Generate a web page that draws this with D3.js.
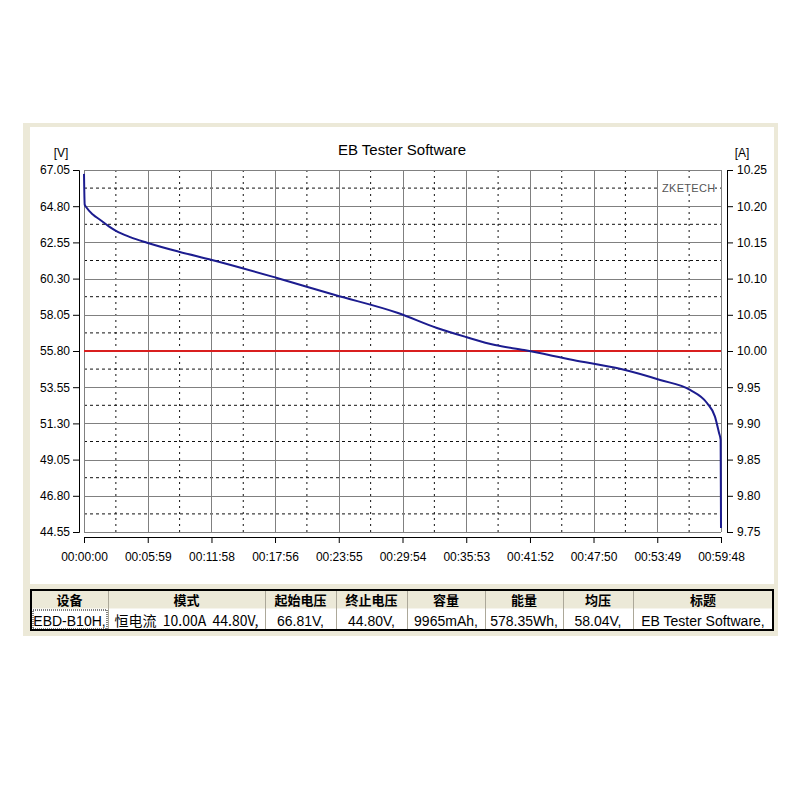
<!DOCTYPE html>
<html lang="zh">
<head>
<meta charset="UTF-8">
<title>EB Tester Software</title>
<script src="https://d3js.org/d3.v7.min.js"></script>
<style>
    body { margin: 0; background: #fff; }
    svg { display: block; }
    text { font-family: "Liberation Sans", Arial, sans-serif; fill: #000; }
    .cjk { font-family: "Noto Sans CJK SC", sans-serif; }
    .axis path, .axis line { stroke: #000; }
    .axis text { font-size: 12px; }
</style>
</head>
<body>
<svg id="chart" width="800" height="800"></svg>
<script>
// voltage curve: [seconds, volts]
const timeSec = [0, 4, 14, 50, 90, 140, 180, 260, 355, 535, 721, 1087, 1414, 1769, 1988, 2152, 2315, 2479, 2755, 3025, 3245, 3414, 3509, 3554, 3577, 3586, 3588];
const voltage = [66.81, 64.90, 64.72, 64.28, 63.96, 63.55, 63.27, 62.88, 62.53, 61.97, 61.46, 60.34, 59.28, 58.16, 57.23, 56.67, 56.17, 55.86, 55.24, 54.68, 54.00, 53.38, 52.57, 51.72, 50.70, 50.27, 44.80];
// current line (A)
const currentTime = [0, 3588];
const current = [10.00, 10.00];

const timeLabels = ["00:00:00", "00:05:59", "00:11:58", "00:17:56", "00:23:55", "00:29:54",
    "00:35:53", "00:41:52", "00:47:50", "00:53:49", "00:59:48"];
const voltTicks = [67.05, 64.80, 62.55, 60.30, 58.05, 55.80, 53.55, 51.30, 49.05, 46.80, 44.55];
const ampTicks = [10.25, 10.20, 10.15, 10.10, 10.05, 10.00, 9.95, 9.90, 9.85, 9.80, 9.75];

const tableHeaders = ["设备", "模式", "起始电压", "终止电压", "容量", "能量", "均压", "标题"];
const tableValues = ["EBD-B10H,", "恒电流  10.00A  44.80V,", "66.81V,", "44.80V,", "9965mAh,", "578.35Wh,", "58.04V,", "EB Tester Software,"];
const colEdges = [31, 108, 265, 336, 407, 485, 563, 633, 773];

const svg = d3.select("#chart");

// window panels
svg.append("rect").attr("x", 23).attr("y", 123).attr("width", 755).attr("height", 513).attr("fill", "#ece9d8");
svg.append("rect").attr("x", 30).attr("y", 127).attr("width", 744).attr("height", 457).attr("fill", "#fff");

const plot = { left: 84, right: 721, top: 170, bottom: 532 };

const toSec = s => { const p = s.split(":").map(Number); return p[0] * 3600 + p[1] * 60 + p[2]; };
const tickSecs = timeLabels.map(toSec);

const x = d3.scaleLinear().domain([0, toSec(timeLabels[timeLabels.length - 1])]).range([plot.left, plot.right]);
const y = d3.scaleLinear().domain([voltTicks[voltTicks.length - 1], voltTicks[0]]).range([plot.bottom, plot.top]);
const yA = d3.scaleLinear().domain([ampTicks[ampTicks.length - 1], ampTicks[0]]).range([plot.bottom, plot.top]);

// grid: solid on ticks, dotted half way
const grid = svg.append("g");
const vMid = d3.pairs(voltTicks).map(([a, b]) => (a + b) / 2);
const tMid = d3.pairs(tickSecs).map(([a, b]) => (a + b) / 2);

grid.selectAll(".hmid").data(vMid).enter().append("line")
    .attr("x1", plot.left).attr("x2", plot.right)
    .attr("y1", d => y(d)).attr("y2", d => y(d))
    .attr("stroke", "#111").attr("stroke-dasharray", "3,3");
grid.selectAll(".vmid").data(tMid).enter().append("line")
    .attr("y1", plot.top).attr("y2", plot.bottom)
    .attr("x1", d => x(d)).attr("x2", d => x(d))
    .attr("stroke", "#111").attr("stroke-dasharray", "2,4");
grid.selectAll(".hmaj").data(voltTicks).enter().append("line")
    .attr("x1", plot.left).attr("x2", plot.right)
    .attr("y1", d => Math.round(y(d)) + 0.5).attr("y2", d => Math.round(y(d)) + 0.5)
    .attr("stroke", "#808080");
grid.selectAll(".vmaj").data(tickSecs).enter().append("line")
    .attr("y1", plot.top).attr("y2", plot.bottom)
    .attr("x1", d => Math.round(x(d)) + 0.5).attr("x2", d => Math.round(x(d)) + 0.5)
    .attr("stroke", "#808080");

// ZKETECH tag
svg.append("rect").attr("x", 660).attr("y", 180).attr("width", 55).attr("height", 14).attr("fill", "#fff");
svg.append("text").attr("x", 662).attr("y", 192).attr("font-size", 11).style("fill", "#555")
    .attr("letter-spacing", 0.3).text("ZKETECH");

// axes
svg.append("g").attr("class", "axis")
    .attr("transform", "translate(79,0)")
    .call(d3.axisLeft(y).tickValues(voltTicks).tickFormat(d3.format(".2f")).tickSize(6).tickPadding(3));
svg.append("g").attr("class", "axis")
    .attr("transform", "translate(727,0)")
    .call(d3.axisRight(yA).tickValues(ampTicks).tickFormat(d3.format(".2f")).tickSize(6).tickPadding(4));
svg.append("g").attr("class", "axis")
    .attr("transform", "translate(0,537)")
    .call(d3.axisBottom(x).tickValues(tickSecs).tickFormat((d, i) => timeLabels[i]).tickSize(6).tickPadding(9));

// current (red) line
svg.append("path")
    .datum(currentTime.map((t, i) => [t, current[i]]))
    .attr("fill", "none").attr("stroke", "#d91f1f").attr("stroke-width", 2.2)
    .attr("d", d3.line().x(d => x(d[0])).y(d => yA(d[1])));

// voltage curve
svg.append("path")
    .datum(timeSec.map((t, i) => [t, voltage[i]]))
    .attr("fill", "none").attr("stroke", "#1c1c8f").attr("stroke-width", 2)
    .attr("d", d3.line().curve(d3.curveMonotoneX).x(d => x(d[0])).y(d => y(d[1])));

// titles
svg.append("text").attr("x", 402).attr("y", 155).attr("text-anchor", "middle")
    .attr("font-size", 15).text("EB Tester Software");
svg.append("text").attr("x", 61).attr("y", 157).attr("text-anchor", "middle").attr("font-size", 12).text("[V]");
svg.append("text").attr("x", 742).attr("y", 157).attr("text-anchor", "middle").attr("font-size", 12).text("[A]");

// summary table
const tb = { top: 590, mid: 609, bottom: 630 };
svg.append("rect").attr("x", colEdges[0]).attr("y", tb.top)
    .attr("width", colEdges[colEdges.length - 1] - colEdges[0]).attr("height", tb.mid - tb.top)
    .attr("fill", "#ece9d8");
svg.append("rect").attr("x", colEdges[0]).attr("y", tb.mid)
    .attr("width", colEdges[colEdges.length - 1] - colEdges[0]).attr("height", tb.bottom - tb.mid)
    .attr("fill", "#fff");
svg.append("line").attr("x1", colEdges[0]).attr("x2", colEdges[colEdges.length - 1])
    .attr("y1", tb.mid + 0.5).attr("y2", tb.mid + 0.5).attr("stroke", "#fff").attr("stroke-width", 2);
svg.selectAll(".coldiv").data(colEdges.slice(1, -1)).enter().append("line")
    .attr("x1", d => d + 0.5).attr("x2", d => d + 0.5)
    .attr("y1", tb.top).attr("y2", tb.bottom)
    .attr("stroke", "#aca899");
svg.append("rect").attr("x", colEdges[0] + 2).attr("y", tb.mid + 1)
    .attr("width", colEdges[1] - colEdges[0] - 3).attr("height", tb.bottom - tb.mid - 2)
    .attr("fill", "none").attr("stroke", "#000").attr("stroke-dasharray", "1,1");
svg.append("rect").attr("x", colEdges[0]).attr("y", tb.top)
    .attr("width", colEdges[colEdges.length - 1] - colEdges[0]).attr("height", tb.bottom - tb.top)
    .attr("fill", "none").attr("stroke", "#000").attr("stroke-width", 2);

svg.selectAll(".hdr").data(tableHeaders).enter().append("text")
    .attr("class", "cjk")
    .attr("x", (d, i) => (colEdges[i] + colEdges[i + 1]) / 2)
    .attr("y", 605).attr("text-anchor", "middle")
    .attr("font-size", 13).attr("font-weight", "bold").text(d => d);
svg.selectAll(".val").data(tableValues).enter().append("text")
    .attr("class", (d, i) => i === 1 ? "cjk" : null)
    .attr("x", (d, i) => (colEdges[i] + colEdges[i + 1]) / 2)
    .attr("y", 626).attr("text-anchor", "middle")
    .attr("font-size", 14).attr("xml:space", "preserve").text(d => d);
</script>
</body>
</html>
